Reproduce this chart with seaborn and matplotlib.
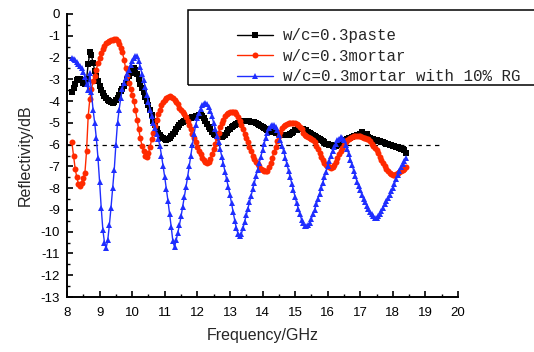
import numpy as np
import pandas as pd
import matplotlib
matplotlib.use("Agg")
import matplotlib.pyplot as plt
from matplotlib.patches import Rectangle
from matplotlib.ticker import MultipleLocator
import seaborn as sns

# Frequency sweep, GHz (0.05 GHz step)
freq = np.round(np.arange(8.15, 18.40 + 1e-9, 0.05), 2)

# Reflectivity, dB
paste = [
    -3.6, -3.4, -3.2, -3.05, -3.0, -2.98, -3.05, -3.15, -3.2, -3.0,
    -2.3, -1.75, -1.9, -2.25, -2.6, -2.85, -3.1, -3.3, -3.5, -3.65,
    -3.75, -3.85, -3.95, -4.0, -4.05, -4.1, -4.05, -3.95, -3.85, -3.7,
    -3.55, -3.45, -3.3, -3.15, -3.0, -2.85, -2.7, -2.6, -2.5, -2.55,
    -2.75, -3.0, -3.2, -3.4, -3.6, -3.8, -4.0, -4.2, -4.4, -4.65,
    -4.9, -5.1, -5.3, -5.45, -5.55, -5.65, -5.7, -5.75, -5.78, -5.75,
    -5.7, -5.6, -5.5, -5.4, -5.3, -5.2, -5.1, -5.0, -4.95, -4.9,
    -4.85, -4.82, -4.8, -4.78, -4.75, -4.72, -4.7, -4.68, -4.65, -4.65,
    -4.7, -4.8, -4.9, -5.05, -5.2, -5.3, -5.4, -5.5, -5.55, -5.6,
    -5.62, -5.63, -5.63, -5.6, -5.55, -5.45, -5.35, -5.28, -5.2, -5.15,
    -5.1, -5.05, -5.0, -4.98, -4.95, -4.92, -4.9, -4.9, -4.9, -4.92,
    -4.94, -4.95, -4.98, -5.02, -5.06, -5.1, -5.15, -5.2, -5.25, -5.3,
    -5.32, -5.35, -5.38, -5.4, -5.42, -5.45, -5.48, -5.5, -5.52, -5.55,
    -5.55, -5.55, -5.55, -5.55, -5.5, -5.45, -5.4, -5.35, -5.32, -5.3,
    -5.3, -5.3, -5.3, -5.32, -5.35, -5.4, -5.45, -5.5, -5.55, -5.6,
    -5.65, -5.7, -5.75, -5.8, -5.85, -5.9, -5.95, -5.98, -6.0, -6.02,
    -6.05, -6.05, -6.05, -6.02, -6.0, -5.95, -5.9, -5.85, -5.8, -5.75,
    -5.7, -5.68, -5.65, -5.62, -5.6, -5.58, -5.55, -5.5, -5.4, -5.55,
    -5.6, -5.5, -5.65, -5.7, -5.72, -5.75, -5.78, -5.8, -5.82, -5.85,
    -5.88, -5.9, -5.92, -5.95, -5.98, -6.0, -6.02, -6.05, -6.08, -6.1,
    -6.12, -6.15, -6.18, -6.2, -6.25, -6.4,
]

mortar = [
    -5.9, -6.5, -7.1, -7.5, -7.8, -7.9, -7.75, -7.55, -7.3, -6.3,
    -4.7, -3.9, -3.45, -3.1, -2.85, -2.55, -2.25, -2.0, -1.8, -1.6,
    -1.45, -1.35, -1.3, -1.25, -1.2, -1.2, -1.15, -1.15, -1.25, -1.4,
    -1.55, -1.75, -2.1, -2.5, -2.85, -3.15, -3.45, -3.7, -4.0, -4.4,
    -4.85, -5.3, -5.7, -6.05, -6.3, -6.5, -6.55, -6.4, -6.1, -5.75,
    -5.45, -5.15, -4.85, -4.6, -4.4, -4.2, -4.05, -3.95, -3.85, -3.8,
    -3.78, -3.8, -3.87, -3.95, -4.05, -4.15, -4.3, -4.4, -4.5, -4.6,
    -4.75, -4.9, -5.1, -5.3, -5.5, -5.7, -5.9, -6.1, -6.3, -6.45,
    -6.6, -6.7, -6.8, -6.85, -6.8, -6.65, -6.45, -6.2, -5.95, -5.7,
    -5.45, -5.2, -5.0, -4.85, -4.7, -4.6, -4.55, -4.5, -4.48, -4.48,
    -4.5, -4.6, -4.75, -4.9, -5.1, -5.3, -5.5, -5.7, -5.9, -6.1,
    -6.3, -6.5, -6.65, -6.8, -6.9, -7.0, -7.1, -7.15, -7.2, -7.23,
    -7.2, -7.05, -6.85, -6.6, -6.35, -6.1, -5.85, -5.6, -5.4, -5.25,
    -5.15, -5.1, -5.05, -5.02, -5.0, -5.0, -5.0, -5.02, -5.05, -5.1,
    -5.2, -5.3, -5.45, -5.55, -5.6, -5.65, -5.7, -5.75, -5.8, -5.9,
    -6.05, -6.2, -6.4, -6.55, -6.7, -6.85, -6.95, -7.0, -7.05, -7.08,
    -7.05, -6.95, -6.8, -6.6, -6.45, -6.3, -6.15, -6.0, -5.9, -5.8,
    -5.75, -5.7, -5.65, -5.62, -5.6, -5.6, -5.6, -5.62, -5.65, -5.68,
    -5.7, -5.72, -5.75, -5.85, -5.95, -6.05, -6.15, -6.25, -6.4, -6.55,
    -6.7, -6.85, -7.0, -7.1, -7.2, -7.3, -7.35, -7.38, -7.38, -7.35,
    -7.3, -7.25, -7.2, -7.15, -7.1, -7.05,
]

mortar_rg = [
    -2.0, -2.05, -2.1, -2.2, -2.3, -2.4, -2.5, -2.65, -2.9, -3.2,
    -3.5, -2.7, -3.6, -4.4, -5.0, -5.7, -6.6, -7.7, -8.9, -9.9,
    -10.5, -10.75, -10.4, -9.7, -8.9, -8.0, -7.15, -6.0, -5.0, -4.4,
    -3.85, -3.45, -3.15, -2.95, -2.75, -2.55, -2.35, -2.15, -2.0, -1.95,
    -1.95, -2.15, -2.45, -2.75, -3.05, -3.35, -3.7, -4.05, -4.4, -4.7,
    -5.0, -5.25, -5.5, -5.75, -6.05, -6.5, -7.0, -7.5, -8.05, -8.6,
    -9.2, -9.8, -10.45, -10.7, -10.4, -10.05, -9.7, -9.3, -8.85, -8.4,
    -7.95, -7.5, -7.0, -6.5, -6.0, -5.5, -5.1, -4.8, -4.55, -4.35,
    -4.2, -4.12, -4.1, -4.12, -4.25, -4.45, -4.7, -5.0, -5.3, -5.6,
    -5.9, -6.2, -6.55, -6.9, -7.25, -7.6, -7.95, -8.3, -8.7, -9.1,
    -9.5, -9.85, -10.1, -10.2, -10.1, -9.85, -9.55, -9.25, -8.95, -8.65,
    -8.35, -8.05, -7.75, -7.45, -7.15, -6.85, -6.55, -6.25, -5.95, -5.7,
    -5.45, -5.25, -5.15, -5.1, -5.1, -5.2, -5.35, -5.55, -5.8, -6.05,
    -6.3, -6.6, -6.9, -7.2, -7.5, -7.8, -8.1, -8.4, -8.7, -8.95,
    -9.2, -9.45, -9.6, -9.72, -9.76, -9.7, -9.6, -9.4, -9.2, -9.0,
    -8.75, -8.5, -8.25, -8.0, -7.75, -7.5, -7.25, -7.0, -6.75, -6.5,
    -6.3, -6.1, -5.95, -5.8, -5.72, -5.67, -5.68, -5.8, -6.0, -6.2,
    -6.45, -6.7, -6.95, -7.2, -7.45, -7.7, -7.9, -8.1, -8.3, -8.5,
    -8.65, -8.8, -8.95, -9.1, -9.2, -9.3, -9.35, -9.35, -9.3, -9.2,
    -9.05, -8.9, -8.75, -8.6, -8.45, -8.3, -8.15, -8.0, -7.8, -7.6,
    -7.4, -7.2, -7.05, -6.9, -6.75, -6.6,
]

series_names = ["w/c=0.3paste", "w/c=0.3mortar", "w/c=0.3mortar with 10% RG"]
series_colors = ["#000000", "#FF2A00", "#1F2EFF"]
series_markers = ["s", "o", "^"]

# -6 dB reference level and where its dashed line stops
threshold_db = -6
threshold_end = 19.45

df = pd.concat(
    [pd.DataFrame({"freq": freq, "refl": vals, "sample": name})
     for name, vals in zip(series_names, [paste, mortar, mortar_rg])],
    ignore_index=True,
)

sns.set_style("ticks")
plt.rcParams["axes.unicode_minus"] = False
plt.rcParams["font.family"] = ["Liberation Sans", "DejaVu Sans"]

fig = plt.figure(figsize=(5.34, 3.52), dpi=100)
ax = fig.add_axes([67 / 534, 55 / 352, 391 / 534, 283 / 352])

handles = []
for name, color, marker in zip(series_names, series_colors, series_markers):
    sub = df[df["sample"] == name]
    sns.lineplot(data=sub, x="freq", y="refl", ax=ax, color=color,
                 marker=marker, markersize=4.3, markeredgewidth=0,
                 linewidth=1.0, sort=False, estimator=None, legend=False)
    handles.append(ax.lines[-1])

ax.hlines(threshold_db, 8, threshold_end, colors="black", linestyles=(0, (3.5, 3.5)),
          linewidth=0.9, zorder=1)

ax.set_xlim(8, 20)
ax.set_ylim(-13, 0)
ax.xaxis.set_major_locator(MultipleLocator(1))
ax.xaxis.set_minor_locator(MultipleLocator(0.5))
ax.yaxis.set_major_locator(MultipleLocator(1))
ax.yaxis.set_minor_locator(MultipleLocator(0.5))

for side in ["top", "right"]:
    ax.spines[side].set_visible(False)
for side in ["left", "bottom"]:
    ax.spines[side].set_linewidth(1.4)
    ax.spines[side].set_color("black")

ax.tick_params(which="major", direction="in", length=4, width=1.2, colors="black",
               labelsize=9.5, pad=5)
ax.tick_params(which="minor", direction="in", length=2.2, width=1.0, colors="black")
ax.tick_params(axis="x", which="major", pad=7)

ax.set_xlabel("Frequency/GHz", fontsize=11.5, labelpad=7)
ax.set_ylabel("Reflectivity/dB", fontsize=11.5, labelpad=6)
ax.grid(False)

# Legend frame runs off the right edge of the figure
fig.add_artist(Rectangle((188 / 534, 1 - 85 / 352), 0.8, 75 / 352,
                         transform=fig.transFigure, fill=False,
                         edgecolor="black", linewidth=1.1, clip_on=False))
ax.legend(handles, series_names, loc="upper left",
          bbox_to_anchor=(237 / 534, 1 - 28 / 352), bbox_transform=fig.transFigure,
          frameon=False, borderpad=0, borderaxespad=0, handlelength=2.3,
          handletextpad=0.6, labelspacing=0.36, numpoints=1,
          prop={"family": ["Liberation Mono", "DejaVu Sans Mono"], "size": 11.3})

fig.savefig("out.png", dpi=100)
